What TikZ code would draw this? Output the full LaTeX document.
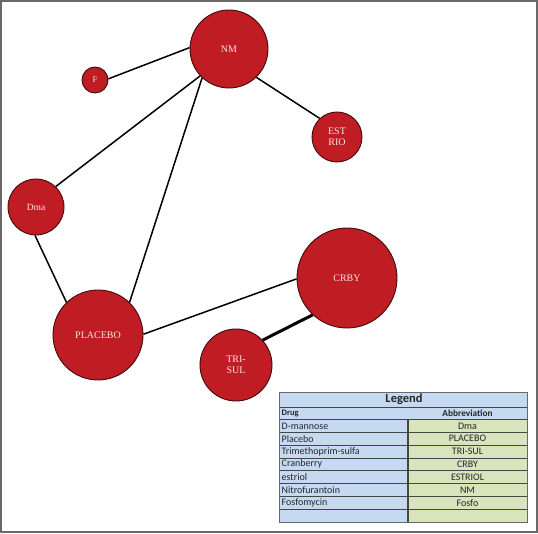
\documentclass[tikz,border=0pt]{standalone}
\usepackage{fontspec}
\setmainfont{Liberation Serif}
\newfontfamily\legendfont{Carlito}
\definecolor{nodered}{RGB}{192,28,36}
\definecolor{nodeline}{RGB}{62,10,12}
\definecolor{nodetext}{RGB}{250,228,228}
\definecolor{legendblue}{RGB}{197,217,241}
\definecolor{legendgreen}{RGB}{216,228,188}
\definecolor{framegray}{RGB}{105,105,105}
\definecolor{rulegray}{RGB}{70,70,70}
\tikzset{
    x = 1pt,
    y = -1pt,
    drug/.style = {circle, draw=nodeline, line width=0.9pt, fill=nodered,
        text=nodetext, inner sep=0pt, align=center,
        font=\fontsize{10}{11}\selectfont},
    link/.style = {line width=1.5pt, black},
    strong link/.style = {line width=3pt, black},
    drugcell/.style = {anchor=west, inner sep=0pt, text=black!85,
        font=\legendfont\fontsize{10}{11}\selectfont},
    abbrcell/.style = {inner sep=0pt, text=black!85,
        font=\legendfont\fontsize{10}{11}\selectfont},
}
\begin{document}
\begin{tikzpicture}
\useasboundingbox (0,0) rectangle (538,534);
\draw[framegray, line width=1.8pt] (0.9,0.9) rectangle (537.1,532.3);

\node[drug, minimum size=78pt] (nm) at (229,49) {NM};
\node[drug, minimum size=26pt, font=\fontsize{8.5}{9}\selectfont] (f) at (95,80) {F};
\node[drug, minimum size=50pt] (estrio) at (337,137) {EST\\RIO};
\node[drug, minimum size=56pt, font=\fontsize{9.5}{10}\selectfont] (dma) at (36,207) {Dma};
\node[drug, minimum size=90pt] (placebo) at (98,335) {PLACEBO};
\node[drug, minimum size=100pt] (crby) at (347,278) {CRBY};
\node[drug, minimum size=72pt] (trisul) at (236,365) {TRI-\\SUL};

\draw[link] (f.5) -- (nm.178);
\draw[link] (nm.314) -- (estrio.133);
\draw[link] (nm.223) -- (dma.46);
\draw[link] (nm.227) -- (placebo.46);
\draw[link] (dma.268) -- (placebo.134);
\draw[link] (placebo.1) -- (crby.181);
\draw[strong link] (crby.227) -- (trisul.43);

\fill[legendblue] (279,392) rectangle (527,419.5);
\fill[legendblue] (279,419.5) rectangle (408,522);
\fill[legendgreen] (408,419.5) rectangle (527,522);

\draw[rulegray, line width=0.7pt] (279,407) -- (527,407);
\draw[rulegray, line width=0.7pt] (279,419.5) -- (527,419.5);
\draw[rulegray, line width=0.7pt] (279,432.3) -- (527,432.3);
\draw[rulegray, line width=0.7pt] (279,445.1) -- (527,445.1);
\draw[rulegray, line width=0.7pt] (279,457.9) -- (527,457.9);
\draw[rulegray, line width=0.7pt] (279,470.7) -- (527,470.7);
\draw[rulegray, line width=0.7pt] (279,483.5) -- (527,483.5);
\draw[rulegray, line width=0.7pt] (279,496.3) -- (527,496.3);
\draw[rulegray, line width=0.7pt] (279,509.1) -- (527,509.1);
\draw[rulegray, line width=1.3pt] (408,419.5) -- (408,522);
\draw[framegray, line width=0.9pt] (279,392) rectangle (527,522);

\node[inner sep=0pt, text=black!85, font=\legendfont\bfseries\fontsize{12.5}{13}\selectfont] (title) at (404,399.5) {Legend};
\node[drugcell, font=\legendfont\bfseries\fontsize{8.5}{9}\selectfont] (hdrug) at (281.5,413.2) {Drug};
\node[abbrcell, font=\legendfont\bfseries\fontsize{9.3}{10}\selectfont] (habbr) at (467.5,413.2) {Abbreviation};

\node[drugcell] (d1) at (281.5,425.9) {D-mannose};
\node[drugcell] (d2) at (281.5,438.7) {Placebo};
\node[drugcell] (d3) at (281.5,451.5) {Trimethoprim-sulfa};
\node[drugcell] (d4) at (281.5,464.3) {Cranberry};
\node[drugcell] (d5) at (281.5,477.1) {estriol};
\node[drugcell] (d6) at (281.5,489.9) {Nitrofurantoin};
\node[drugcell] (d7) at (281.5,502.7) {Fosfomycin};

\node[abbrcell] (a1) at (467.5,425.9) {Dma};
\node[abbrcell] (a2) at (467.5,438.7) {PLACEBO};
\node[abbrcell] (a3) at (467.5,451.5) {TRI-SUL};
\node[abbrcell] (a4) at (467.5,464.3) {CRBY};
\node[abbrcell] (a5) at (467.5,477.1) {ESTRIOL};
\node[abbrcell] (a6) at (467.5,489.9) {NM};
\node[abbrcell] (a7) at (467.5,502.7) {Fosfo};
\end{tikzpicture}
\end{document}
